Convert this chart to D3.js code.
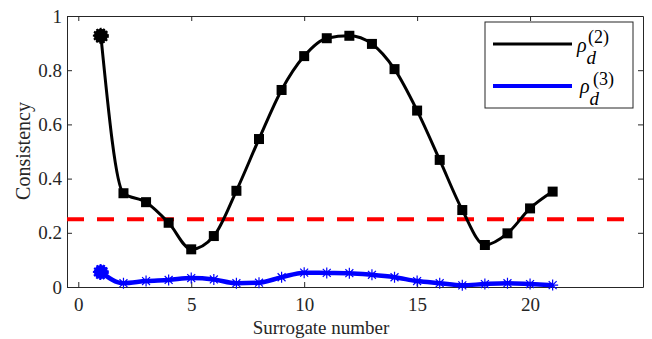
<!DOCTYPE html>
<html lang="en">
<head>
<meta charset="UTF-8">
<title>Consistency vs surrogate number</title>
<style>
  body { margin: 0; background: #fff; }
  svg { display: block; }
  text { font-family: "Liberation Serif", "Times New Roman", serif; }
  .axis path, .axis line { stroke: #262626; stroke-width: 1; }
  .axis text { font-size: 19px; fill: #262626; }
</style>
</head>
<body>
<svg width="652" height="339"></svg>
<script src="https://d3js.org/d3.v7.min.js"></script>
<script>
// surrogate index
const surrogates = d3.range(1, 22);
// rho_d^(2)
const rho2 = [0.927, 0.346, 0.313, 0.237, 0.139, 0.188, 0.355, 0.546, 0.727, 0.852,
              0.918, 0.927, 0.897, 0.804, 0.651, 0.469, 0.284, 0.155, 0.198, 0.290, 0.352];
// rho_d^(3)
const rho3 = [0.055, 0.014, 0.022, 0.026, 0.033, 0.028, 0.014, 0.016, 0.036, 0.053,
              0.052, 0.051, 0.045, 0.036, 0.022, 0.014, 0.006, 0.011, 0.014, 0.011, 0.007];
const threshold = 0.25;
const xTicks = [0, 5, 10, 15, 20];
const yTicks = [0, 0.2, 0.4, 0.6, 0.8, 1];

const serif = '"Liberation Serif", "Times New Roman", serif';
const svg = d3.select('svg');
const mLeft = 67, mRight = 643, mTop = 16, mBottom = 287;

const x = d3.scaleLinear().domain([-0.5, 25]).range([mLeft, mRight]);
const y = d3.scaleLinear().domain([0, 1]).range([mBottom, mTop]);

// axes with inward ticks, box on
const gx = svg.append('g').attr('class', 'axis')
  .attr('transform', `translate(0,${mBottom})`)
  .call(d3.axisBottom(x).tickValues(xTicks).tickSize(-5).tickPadding(11).tickSizeOuter(0).tickFormat(d3.format('d')));
const gy = svg.append('g').attr('class', 'axis')
  .attr('transform', `translate(${mLeft},0)`)
  .call(d3.axisLeft(y).tickValues(yTicks).tickSize(-5).tickPadding(5).tickSizeOuter(0).tickFormat(d => d === 0 || d === 1 ? d : d.toFixed(1)));
svg.append('g').attr('class', 'axis')
  .attr('transform', `translate(0,${mTop})`)
  .call(d3.axisTop(x).tickValues(xTicks).tickSize(-5).tickSizeOuter(0).tickFormat(''));
svg.append('g').attr('class', 'axis')
  .attr('transform', `translate(${mRight},0)`)
  .call(d3.axisRight(y).tickValues(yTicks).tickSize(-5).tickSizeOuter(0).tickFormat(''));
svg.selectAll('.axis').attr('font-family', serif).attr('font-size', 19);
svg.selectAll('.axis text').style('font-family', serif).style('font-size', '19px');

const plot = svg.append('g');

// threshold line
plot.append('line')
  .attr('x1', x(-0.5)).attr('x2', x(24.3))
  .attr('y1', y(threshold)).attr('y2', y(threshold))
  .attr('stroke', '#ff0000').attr('stroke-width', 4)
  .attr('stroke-dasharray', '17,13');

const line = d3.line().x((d, i) => x(surrogates[i])).y(d => y(d)).curve(d3.curveMonotoneX);

// rho3 (blue)
plot.append('path').datum(rho3)
  .attr('d', line).attr('fill', 'none')
  .attr('stroke', '#0000ff').attr('stroke-width', 4.5);
const ast = 5.5;
const astPath = `M0,${-ast}V${ast}M${-ast},0H${ast}M${-ast*0.72},${-ast*0.72}L${ast*0.72},${ast*0.72}M${-ast*0.72},${ast*0.72}L${ast*0.72},${-ast*0.72}`;
plot.selectAll('.ast').data(rho3.slice(1)).enter().append('path')
  .attr('class', 'ast')
  .attr('transform', (d, i) => `translate(${x(surrogates[i + 1])},${y(d)})`)
  .attr('d', astPath).attr('stroke', '#0000ff').attr('stroke-width', 1.2).attr('fill', 'none');
plot.append('circle')
  .attr('cx', x(surrogates[0])).attr('cy', y(rho3[0])).attr('r', 7)
  .attr('fill', '#0000ff').attr('stroke', '#0000ff').attr('stroke-width', 2).attr('stroke-dasharray', '2,1.5');

// rho2 (black)
plot.append('path').datum(rho2)
  .attr('d', line).attr('fill', 'none')
  .attr('stroke', '#000').attr('stroke-width', 3);
plot.selectAll('.sq').data(rho2.slice(1)).enter().append('rect')
  .attr('class', 'sq')
  .attr('x', (d, i) => x(surrogates[i + 1]) - 5)
  .attr('y', d => y(d) - 5)
  .attr('width', 10).attr('height', 10).attr('fill', '#000');
plot.append('circle')
  .attr('cx', x(surrogates[0])).attr('cy', y(rho2[0])).attr('r', 7)
  .attr('fill', '#000').attr('stroke', '#000').attr('stroke-width', 2).attr('stroke-dasharray', '2,1.5');

// axis labels
svg.append('text')
  .attr('x', 321).attr('y', 334)
  .attr('text-anchor', 'middle').style('font-family', serif).style('font-size', '19px').attr('fill', '#262626')
  .text('Surrogate number');
svg.append('text')
  .attr('transform', `translate(30,151) rotate(-90)`)
  .attr('text-anchor', 'middle').style('font-family', serif).style('font-size', '20px').attr('fill', '#262626')
  .text('Consistency');

// legend
const lg = svg.append('g');
lg.append('rect').attr('x', 485).attr('y', 22).attr('width', 148).attr('height', 86)
  .attr('fill', '#fff').attr('stroke', '#262626').attr('stroke-width', 1);
const entries = [
  { c: '#000', w: 3, k: '2', yy: 44, tx: 577, rb: 52, sx: 588, sb: 43 },
  { c: '#0000ff', w: 4, k: '3', yy: 86, tx: 580, rb: 93, sx: 593, sb: 85 }
];
entries.forEach(e => {
  lg.append('line').attr('x1', 493).attr('x2', 572).attr('y1', e.yy).attr('y2', e.yy)
    .attr('stroke', e.c).attr('stroke-width', e.w);
  const t = lg.append('text').attr('x', e.tx).attr('y', e.rb)
    .style('font-family', serif).style('font-size', '20px').attr('font-style', 'italic').attr('fill', '#000');
  t.append('tspan').text('ρ');
  t.append('tspan').attr('dy', 12).style('font-size', '19px').text('d');
  lg.append('text').attr('x', e.sx).attr('y', e.sb)
    .style('font-family', serif).style('font-size', '18px').attr('fill', '#000').text(`(${e.k})`);
});
</script>
</body>
</html>
